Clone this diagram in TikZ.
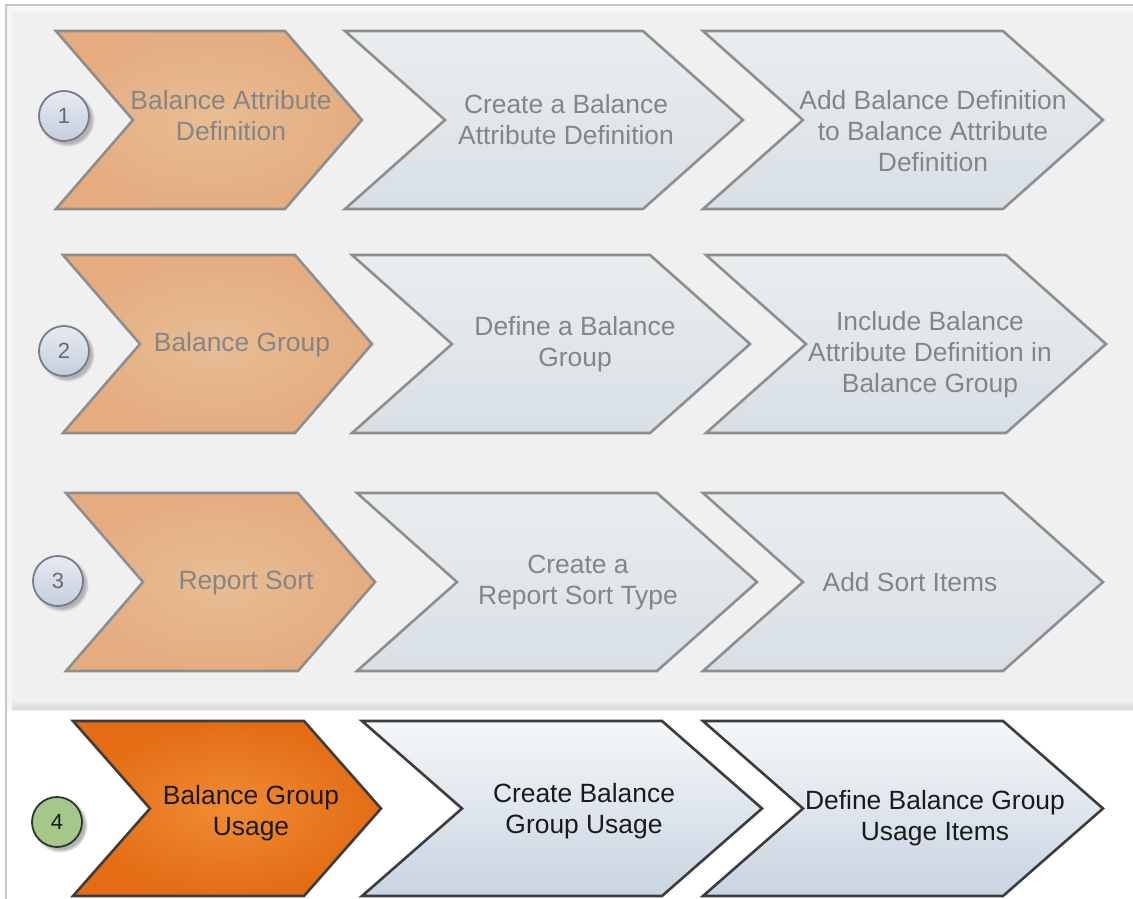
\documentclass[tikz,border=0pt]{standalone}
\usepackage{fontspec}
\setmainfont{Liberation Sans}
\usetikzlibrary{shadows}
\definecolor{framec}{HTML}{C8C8C8}
\definecolor{panelc}{HTML}{F0F0F0}
\definecolor{panelout}{HTML}{F6F6F6}
\definecolor{panelsh}{HTML}{DADADA}
\definecolor{fadeedge}{HTML}{8E8E8E}
\definecolor{darkedge}{HTML}{3C3C3C}
\definecolor{oc1}{HTML}{E8BD94}
\definecolor{oc2}{HTML}{E5AC80}
\definecolor{hc1}{HTML}{F08C34}
\definecolor{hc2}{HTML}{E36C14}
\definecolor{bt1}{HTML}{EAEDEE}
\definecolor{bb1}{HTML}{D8E0E6}
\definecolor{bt2}{HTML}{F5F7F9}
\definecolor{bb2}{HTML}{C8D4E1}
\definecolor{fadetext}{HTML}{858585}
\definecolor{hottext}{HTML}{1A1A1A}
\definecolor{ct}{HTML}{E6EAF1}
\definecolor{cb}{HTML}{C6CEDE}
\definecolor{cedge}{HTML}{767C88}
\definecolor{gfill}{HTML}{A6C78A}
\definecolor{gedge}{HTML}{2C382C}
\newcommand\chev[6]{%
  \path[#1] (#2,#3) -- ({#4-#6},#3) -- (#4,{(#3+#5)/2}) -- ({#4-#6},#5) -- (#2,#5) -- ({#2+#6},{(#3+#5)/2}) -- cycle;}
\tikzset{
  chevbase/.style={line width=2.6pt, line join=miter},
  fadeor/.style={chevbase, draw=fadeedge, inner color=oc1, outer color=oc2},
  fadebl/.style={chevbase, draw=fadeedge, top color=bt1, bottom color=bb1},
  hotor/.style={chevbase, draw=darkedge, inner color=hc1, outer color=hc2},
  hotbl/.style={chevbase, draw=darkedge, top color=bt2, bottom color=bb2},
  lab/.style={align=center, inner sep=0pt, font=\fontsize{26.4}{31}\selectfont},
  fadelab/.style={lab, text=fadetext},
  hotlab/.style={lab, text=hottext},
  numc/.style={circle, minimum size=50pt, inner sep=0pt, line width=1.8pt,
    font=\fontsize{22}{22}\selectfont,
    circular drop shadow={shadow xshift=3pt, shadow yshift=-3pt, fill=black!30}},
  fadenum/.style={numc, draw=cedge, top color=ct, bottom color=cb, text=fadetext!80!black},
  hotnum/.style={numc, draw=gedge, fill=gfill, text=hottext},
}
\begin{document}
\begin{tikzpicture}[x=1pt, y=-1pt]
\useasboundingbox (0,0) rectangle (1133,899);
\fill[white] (0,0) rectangle (1133,899);
% panel
\fill[panelout] (6,6) rectangle (1133,711);
\fill[panelc] (12,12) rectangle (1133,701);
\fill[top color=panelc, bottom color=panelsh] (12,700) rectangle (1133,709);
\draw[framec, line width=2pt] (5.5,899) -- (5.5,5) -- (1133,5);
% row 1
\chev{fadeor}{56}{31}{362}{209}{77}
\chev{fadebl}{345}{31}{743}{209}{100}
\chev{fadebl}{703}{31}{1103}{209}{100}
\node[fadelab] (t11) at (231,116) {Balance Attribute\\Definition};
\node[fadelab] (t12) at (566,120) {Create a Balance\\Attribute Definition};
\node[fadelab] (t13) at (933,131) {Add Balance Definition\\to Balance Attribute\\Definition};
\node[fadenum] (n1) at (64,116) {1};
% row 2
\chev{fadeor}{63}{255}{372}{433}{77}
\chev{fadebl}{352}{255}{750}{433}{100}
\chev{fadebl}{706}{255}{1106}{433}{100}
\node[fadelab] (t21) at (242,345) {Balance Group};
\node[fadelab] (t22) at (575,344) {Define a Balance\\Group};
\node[fadelab] (t23) at (930,355) {Include Balance\\Attribute Definition in\\Balance Group};
\node[fadenum] (n2) at (64,351) {2};
% row 3
\chev{fadeor}{66}{493}{375}{671}{77}
\chev{fadebl}{357}{493}{757}{671}{100}
\chev{fadebl}{703}{493}{1103}{671}{100}
\node[fadelab] (t31) at (246,583) {Report Sort};
\node[fadelab] (t32) at (578,583) {Create a\\Report Sort Type};
\node[fadelab] (t33) at (910,582) {Add Sort Items};
\node[fadenum] (n3) at (58,581) {3};
% row 4
\chev{hotor}{73}{721}{381}{896}{77}
\chev{hotbl}{362}{721}{762}{896}{100}
\chev{hotbl}{703}{721}{1103}{896}{100}
\node[hotlab] (t41) at (251,813) {Balance Group\\Usage};
\node[hotlab] (t42) at (584,811) {Create Balance\\Group Usage};
\node[hotlab] (t43) at (935,818) {Define Balance Group\\Usage Items};
\node[hotnum] (n4) at (57,822) {4};
\end{tikzpicture}
\end{document}
